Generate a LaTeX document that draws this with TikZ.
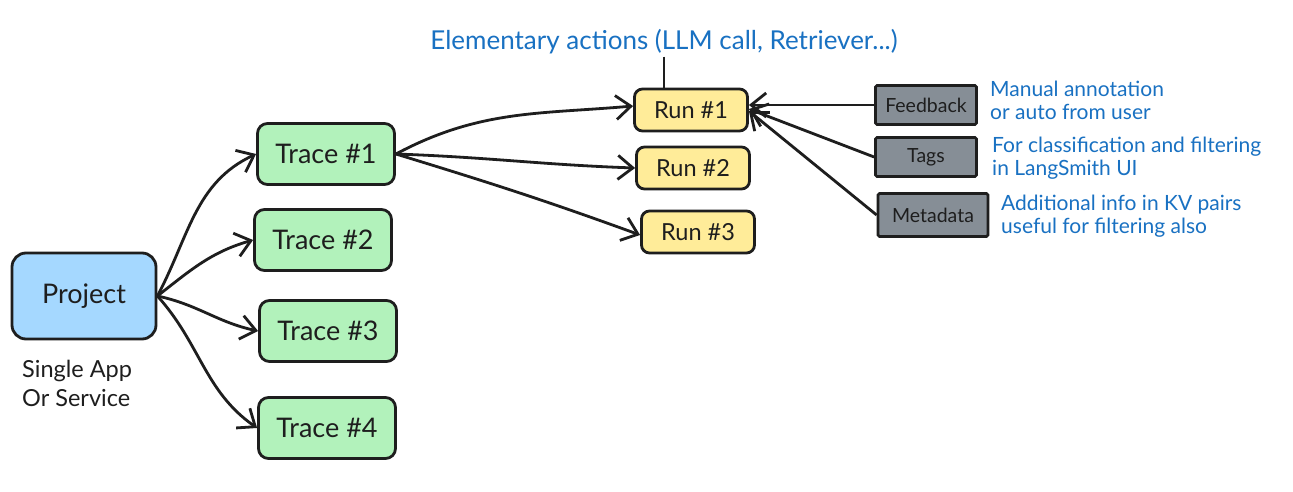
\documentclass[tikz,border=0pt]{standalone}
\usepackage{fontspec}
\setmainfont{Lato}
\usetikzlibrary{arrows.meta}
\definecolor{projfill}{HTML}{A5D8FF}
\definecolor{tracefill}{HTML}{B2F2BB}
\definecolor{runfill}{HTML}{FFEC99}
\definecolor{metafill}{HTML}{868E96}
\definecolor{note}{HTML}{1971C2}
\definecolor{ink}{HTML}{1E1E1E}
\begin{document}
\begin{tikzpicture}[x=1pt,y=1pt,
  box/.style={draw=ink,line width=2.8pt,align=center,inner sep=0pt,text=ink},
  projbox/.style={box,fill=projfill,rounded corners=14pt,minimum width=144pt,minimum height=86pt,font=\fontsize{27}{30}\selectfont},
  tracebox/.style={box,fill=tracefill,rounded corners=10pt,minimum width=137pt,minimum height=61pt,font=\fontsize{27}{30}\selectfont},
  runbox/.style={box,fill=runfill,rounded corners=8pt,minimum width=113pt,minimum height=42pt,font=\fontsize{23.5}{26}\selectfont},
  metabox/.style={box,fill=metafill,rounded corners=1.5pt,minimum height=39pt,font=\fontsize{19.5}{22}\selectfont},
  notetext/.style={text=note,align=left,anchor=west,font=\fontsize{21}{23}\selectfont,inner sep=0pt},
  arr/.style={draw=ink,line width=2.8pt,-{Straight Barb[length=15pt,width=24pt,line width=2.8pt]}},
  plain/.style={draw=ink,line width=2.8pt}
]
\useasboundingbox (0,0) rectangle (1293,-492);
\fill[white] (0,0) rectangle (1293,-492);

% nodes
\node[projbox] (proj) at (84,-296) {Project};
\node[align=left,anchor=north west,inner sep=0pt,text=ink,font=\fontsize{23.5}{29}\selectfont] (projlbl) at (22,-360) {Single App\\Or Service};

\node[tracebox] (t1) at (326,-154) {Trace \#1};
\node[tracebox] (t2) at (323,-240) {Trace \#2};
\node[tracebox] (t3) at (328,-331) {Trace \#3};
\node[tracebox] (t4) at (327,-428) {Trace \#4};

\node[runbox] (r1) at (691,-110) {Run \#1};
\node[runbox] (r2) at (693,-168) {Run \#2};
\node[runbox] (r3) at (698,-232) {Run \#3};

\node[metabox,minimum width=101pt] (fb) at (926,-105) {Feedback};
\node[metabox,minimum width=101pt] (tags) at (926,-157) {Tags};
\node[metabox,minimum width=110pt,minimum height=43pt] (meta) at (933,-215) {Metadata};

\node[text=note,inner sep=2pt,font=\fontsize{26}{28}\selectfont] (lbl) at (664,-42) {Elementary actions (LLM call, Retriever...)};

\node[notetext] (n1) at (990,-100) {Manual annotation\\or auto from user};
\node[notetext] (n2) at (992,-158) {For classification and filtering\\in LangSmith UI};
\node[notetext] (n3) at (1001,-216) {Additional info in KV pairs\\useful for filtering also};

% connectors
\coordinate (pe) at (proj.east);
\draw[arr] (pe) to[out=62,in=205] (t1.west);
\draw[arr] (pe) to[out=38,in=196] (t2.west);
\draw[arr] (pe) to[out=-12,in=168] (t3.west);
\draw[arr] (pe) to[out=-48,in=145] (t4.west);

\coordinate (te) at (t1.east);
\draw[arr] (te) to[out=28,in=185] ([yshift=4pt]r1.west);
\draw[arr] (te) to[out=-2,in=178] (r2.west);
\draw[arr] (te) to[out=-17,in=160] ([yshift=-3pt]r3.west);

\draw[arr] (fb.west) -- ([yshift=5pt]r1.east);
\draw[arr] (tags.west) -- ([yshift=1pt]r1.east);
\draw[arr] (meta.west) -- ([yshift=-1pt]r1.east);

\draw[plain] (lbl.south) -- (lbl.south |- r1.north);
\end{tikzpicture}
\end{document}
